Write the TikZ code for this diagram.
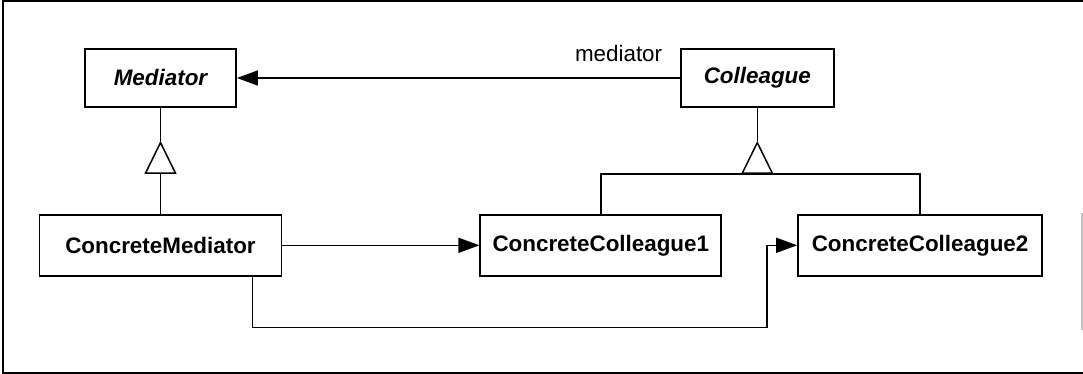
\documentclass[tikz,border=0pt]{standalone}
\usepackage{fontspec}
\setmainfont{Liberation Sans}
\usetikzlibrary{arrows.meta,positioning}

\begin{document}
\begin{tikzpicture}[
    classbox/.style={rectangle, draw=black, line width=0.9pt, minimum height=29pt, text centered, inner sep=2pt, font=\fontsize{11.2}{13.4}\selectfont\bfseries},
    abstract/.style={classbox, font=\fontsize{11.2}{13.4}\selectfont\bfseries\itshape},
    assoc/.style={-{Triangle[length=10.5pt,width=7.5pt]}, line width=0.75pt},
    inherit/.style={-{Triangle[open,length=16.5pt,width=16pt,fill=white]}, line width=0.75pt},
    line/.style={line width=0.75pt}
]

% Frame
\useasboundingbox (0,0) rectangle (541.5pt,-187pt);
\draw[line] (541.5pt,-0.5pt) -- (1.5pt,-0.5pt) -- (1.5pt,-186.5pt) -- (541.5pt,-186.5pt);
\draw[line, black!25] (541pt,-106.5pt) -- (541pt,-165pt);

% Classes
\node (mediator) [abstract, minimum width=75.5pt] at (80.25pt,-39pt) {Mediator};
\node (colleague) [abstract, minimum width=76.5pt, right=221.5pt of mediator] {Colleague};
\node (concmed) [classbox, minimum width=121pt, minimum height=30.5pt, below=53pt of mediator] {ConcreteMediator};
\node (colleague1) [classbox, minimum width=120.5pt, minimum height=30.5pt, right=98.5pt of concmed] {ConcreteColleague1};
\node (colleague2) [classbox, minimum width=122pt, minimum height=30.5pt, right=37.5pt of colleague1] {ConcreteColleague2};

% Inheritance
\coordinate (medtip) at ([yshift=-16.5pt]mediator.south);
\coordinate (medbase) at ([yshift=-33pt]mediator.south);
\draw[line] (concmed.north) -- (medbase);
\draw[inherit] (medbase) -- (medtip);
\draw[line] (medtip) -- (mediator.south);

\coordinate (coltip) at ([yshift=-16.5pt]colleague.south);
\coordinate (colbase) at ([yshift=-33pt]colleague.south);
\draw[line] (colleague1.north) -- ++(0,20pt) -| (colleague2.north);
\draw[inherit] (colbase) -- (coltip);
\draw[line] (coltip) -- (colleague.south);

% Associations
\draw[assoc] (colleague.west) -- node[at start, anchor=east, inner sep=0pt, xshift=-8.5pt, yshift=12.5pt, font=\fontsize{11.2}{13.4}\selectfont] (medlabel) {mediator} (mediator.east);
\draw[assoc] (concmed.east) -- (colleague1.west);
\coordinate (cc2turn) at ([xshift=-15pt]colleague2.west);
\draw[assoc] ([xshift=46pt]concmed.south) -- ++(0,-25.5pt) -| (cc2turn) -- (colleague2.west);

\end{tikzpicture}
\end{document}
